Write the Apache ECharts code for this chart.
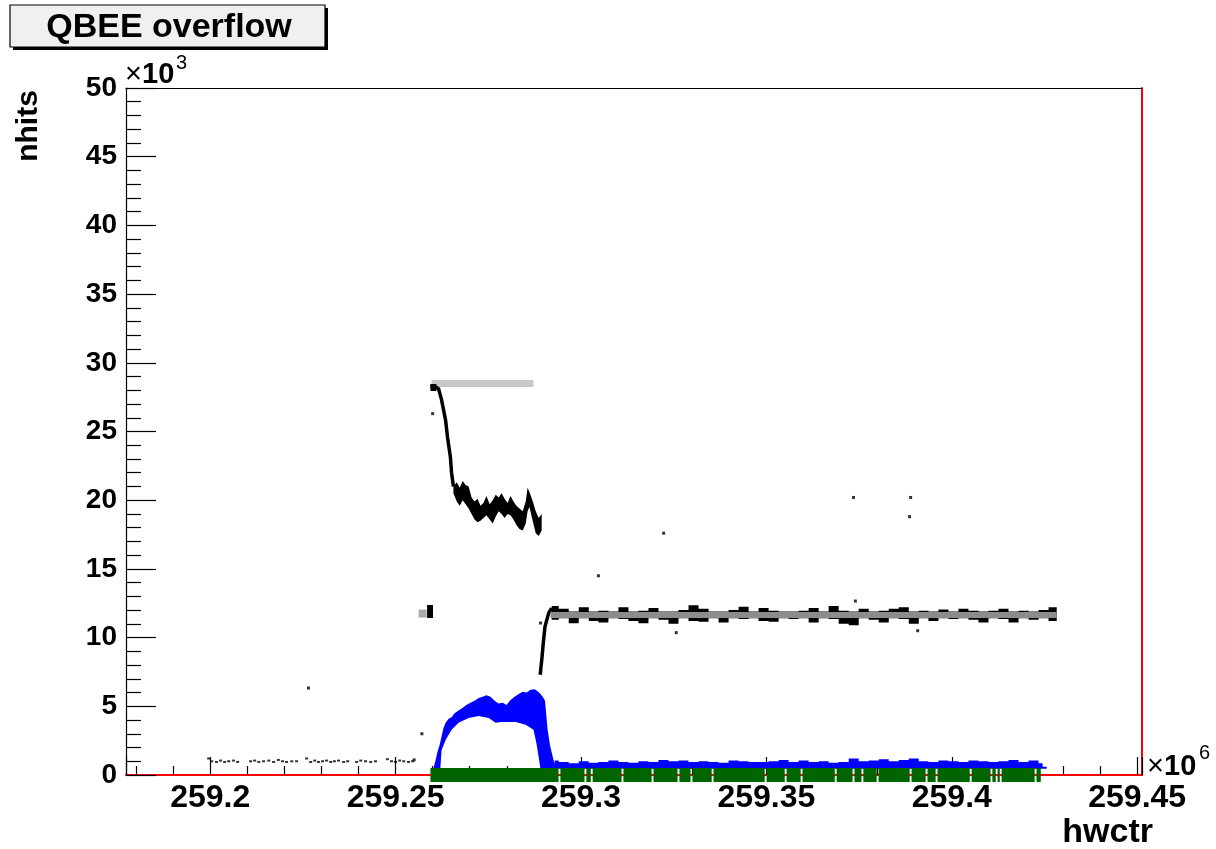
<!DOCTYPE html>
<html><head><meta charset="utf-8">
<script src="https://cdn.jsdelivr.net/npm/echarts@6/dist/echarts.min.js"></script>
<style>html,body{margin:0;padding:0;background:#fff}#c{width:1216px;height:849px}</style>
</head><body><div id="c"></div><script>
// ---------- data (x in units of 10^6 hwctr, y in units of 10^3 nhits) ----------
const xRange = [259.1773, 259.4513];
const yRange = [0, 50];
const xTickLabels = ['259.2', '259.25', '259.3', '259.35', '259.4', '259.45'];
const yTickLabels = ['0', '5', '10', '15', '20', '25', '30', '35', '40', '45', '50'];

// black trace, first period: start blob and descent
const blackDescent = [[259.2594, 28.3], [259.2605, 28.3], [259.2616, 28.1], [259.2624, 27.3], [259.2635, 25.8],
  [259.2640, 24.6], [259.2648, 23.1], [259.2651, 22.0], [259.2656, 21.0]];
// black trace, first period noisy band: [x, top, bottom]
const blackBand1 = [
  [259.2656, 21.0, 20.5], [259.2665, 21.3, 19.9], [259.2673, 20.9, 19.6], [259.2681, 21.4, 20.0],
  [259.2689, 21.1, 19.7], [259.2697, 21.0, 19.4], [259.2705, 20.2, 19.0], [259.2713, 19.9, 18.6],
  [259.2721, 20.1, 18.4], [259.2729, 19.6, 18.5], [259.2737, 19.8, 18.7], [259.2745, 20.3, 18.9],
  [259.2754, 19.7, 18.6], [259.2762, 20.0, 18.3], [259.2770, 20.4, 18.8], [259.2778, 20.2, 19.2],
  [259.2786, 20.5, 19.0], [259.2794, 20.1, 18.7], [259.2802, 19.8, 19.0], [259.2810, 20.3, 18.9],
  [259.2818, 19.9, 18.6], [259.2826, 19.6, 18.2], [259.2834, 19.4, 17.9], [259.2843, 19.2, 17.8],
  [259.2851, 19.9, 18.3], [259.2856, 20.9, 19.2], [259.2861, 20.6, 19.5], [259.2869, 20.0, 18.6],
  [259.2878, 19.2, 17.6], [259.2886, 18.7, 17.4], [259.2894, 19.0, 17.8]
];
// black trace, rise into second period
const blackRise = [[259.2890, 7.3], [259.2895, 8.6], [259.2899, 9.8], [259.2903, 10.8], [259.2913, 11.8], [259.2921, 12.15]];
// black trace, second period noisy band: [x, top, bottom]
const blackBand2 = [
  [259.2921, 12.3, 11.3], [259.2940, 12.1, 11.4], [259.2967, 11.9, 11.05], [259.2994, 12.2, 11.4],
  [259.3021, 11.9, 11.2], [259.3047, 11.95, 11.1], [259.3074, 11.9, 11.4], [259.3101, 12.2, 11.35],
  [259.3128, 11.9, 11.2], [259.3155, 11.95, 11.05], [259.3182, 12.15, 11.4], [259.3209, 11.9, 11.3],
  [259.3236, 11.9, 11.0], [259.3263, 12.0, 11.4], [259.3290, 12.35, 11.2], [259.3317, 12.1, 11.15],
  [259.3344, 11.9, 11.4], [259.3371, 11.9, 11.1], [259.3398, 12.0, 11.4], [259.3425, 12.25, 11.35],
  [259.3452, 11.9, 11.4], [259.3479, 12.15, 11.2], [259.3506, 11.95, 11.15], [259.3533, 11.9, 11.4],
  [259.3560, 11.9, 11.35], [259.3587, 11.95, 11.4], [259.3614, 12.15, 11.1], [259.3641, 11.9, 11.4],
  [259.3668, 12.3, 11.35], [259.3695, 11.95, 11.0], [259.3722, 11.9, 10.9], [259.3749, 12.1, 11.4],
  [259.3776, 11.9, 11.3], [259.3803, 11.95, 11.1], [259.3830, 12.1, 11.4], [259.3857, 12.2, 11.35],
  [259.3884, 11.9, 11.0], [259.3911, 11.95, 11.4], [259.3937, 11.9, 11.2], [259.3964, 12.05, 11.4],
  [259.3991, 11.9, 11.35], [259.4018, 12.1, 11.4], [259.4045, 11.95, 11.3], [259.4072, 11.9, 11.1],
  [259.4099, 11.95, 11.4], [259.4126, 12.1, 11.35], [259.4153, 11.9, 11.1], [259.4180, 11.95, 11.4],
  [259.4207, 11.9, 11.3], [259.4234, 12.0, 11.4], [259.4261, 12.2, 11.2], [259.4283, 11.8, 11.0]
];
// small black cluster near 12k before the run
const blackBlob = [[259.2585, 11.9], [259.2601, 11.9]];
const blackStartBlob = [[259.2594, 28.2], [259.2610, 28.2]];
// gray series
const grayHigh = [[259.2597, 28.5], [259.2872, 28.5]];
const grayBlob = [[259.2562, 11.75], [259.2584, 11.75]];
const grayFlat = [[259.2918, 11.65], [259.4283, 11.65]];
// blue: hump outer edge (left to right) and inner edge (right to left)
const blueHumpOuter = [
  [259.2602, 0.5], [259.2608, 1.1], [259.2613, 1.7], [259.2619, 2.2], [259.2624, 2.8], [259.2629, 3.4],
  [259.2635, 3.8], [259.2643, 4.1], [259.2651, 4.2], [259.2659, 4.5], [259.2670, 4.7], [259.2681, 4.9],
  [259.2691, 5.1], [259.2702, 5.25], [259.2713, 5.4], [259.2724, 5.6], [259.2735, 5.7], [259.2745, 5.8],
  [259.2756, 5.7], [259.2767, 5.4], [259.2778, 5.2], [259.2789, 5.25], [259.2799, 5.1], [259.2810, 5.45],
  [259.2821, 5.7], [259.2832, 5.9], [259.2843, 6.05], [259.2853, 6.0], [259.2864, 6.2], [259.2875, 6.25],
  [259.2883, 6.1], [259.2891, 5.9], [259.2899, 5.6], [259.2903, 5.4], [259.2910, 3.3], [259.2917, 2.1],
  [259.2926, 1.1], [259.2934, 0.5]
];
const blueHumpInner = [
  [259.2890, 0.6], [259.2886, 1.3], [259.2880, 2.3], [259.2872, 3.3], [259.2851, 3.65], [259.2824, 3.85],
  [259.2786, 3.85], [259.2770, 3.8], [259.2751, 4.15], [259.2724, 4.3], [259.2697, 4.15], [259.2670, 3.8],
  [259.2651, 3.3], [259.2635, 2.55], [259.2624, 1.8], [259.2621, 0.6]
];
// blue: low level during second period (top edge)
const blueFlat = [
  [259.2929, 1.05], [259.2940, 0.95], [259.2967, 0.85], [259.2994, 1.0], [259.3021, 0.9], [259.3047, 0.95],
  [259.3074, 1.05], [259.3101, 0.95], [259.3128, 0.9], [259.3155, 1.0], [259.3182, 0.95], [259.3209, 1.1],
  [259.3236, 1.0], [259.3263, 1.05], [259.3290, 0.95], [259.3317, 1.0], [259.3344, 0.95], [259.3371, 0.9],
  [259.3398, 1.05], [259.3425, 1.0], [259.3452, 0.95], [259.3479, 0.95], [259.3506, 1.0], [259.3533, 1.1],
  [259.3560, 0.95], [259.3587, 1.05], [259.3614, 0.95], [259.3641, 1.0], [259.3668, 0.9], [259.3695, 0.95],
  [259.3722, 1.2], [259.3749, 1.0], [259.3776, 1.05], [259.3803, 1.15], [259.3830, 1.0], [259.3857, 1.1],
  [259.3884, 1.2], [259.3911, 1.0], [259.3937, 0.95], [259.3964, 1.05], [259.3991, 1.0], [259.4018, 0.95],
  [259.4045, 1.05], [259.4072, 1.0], [259.4099, 0.95], [259.4126, 1.0], [259.4153, 1.1], [259.4180, 0.95],
  [259.4207, 1.05], [259.4234, 0.85], [259.4245, 0.6], [259.4256, 0.4]
];
// green: points at zero, continuous run with gaps
const greenRange = [259.2594, 259.4240];
const greenGaps = [259.2942, 259.3012, 259.3029, 259.3112, 259.3193, 259.3263, 259.3298, 259.3355, 259.3498,
  259.3552, 259.3595, 259.3687, 259.3735, 259.3759, 259.3800, 259.3889, 259.3932, 259.3959, 259.4051,
  259.4107, 259.4121, 259.4132, 259.4226];
// isolated black points
const blackDots = [[259.2265, 6.33], [259.2571, 3.0], [259.2550, 1.1], [259.2600, 26.3], [259.3047, 14.5],
  [259.3223, 17.6], [259.3735, 20.2], [259.3889, 20.2], [259.3886, 18.8], [259.2891, 11.06],
  [259.3257, 10.36], [259.3740, 12.66], [259.3908, 10.5]];
// faint row of points before the run
const faintRow = [
  [259.1996, 1.2], [259.2004, 1.0], [259.2017, 0.95], [259.2028, 1.05], [259.2039, 0.95], [259.2050, 1.0],
  [259.2063, 1.05], [259.2074, 0.95], [259.2109, 1.0], [259.2120, 1.05], [259.2131, 0.95], [259.2144, 1.0],
  [259.2158, 1.05], [259.2171, 0.95], [259.2184, 1.1], [259.2195, 1.0], [259.2206, 0.95], [259.2220, 1.0],
  [259.2233, 1.0], [259.2260, 1.2], [259.2271, 0.95], [259.2282, 1.05], [259.2292, 0.95], [259.2303, 1.0],
  [259.2314, 1.05], [259.2325, 0.95], [259.2335, 1.0], [259.2346, 1.05], [259.2360, 0.95], [259.2371, 1.0],
  [259.2395, 0.95], [259.2406, 1.05], [259.2419, 1.0], [259.2433, 0.95], [259.2446, 1.0],
  [259.2478, 1.15], [259.2489, 1.0], [259.2500, 0.95], [259.2511, 1.05], [259.2522, 1.0], [259.2535, 0.95],
  [259.2546, 1.0]
];

// ---------- build ----------
const FONT = '"Liberation Sans", Arial, Helvetica, sans-serif';
function polygonSeries(points, color, z) {
  return { type: 'custom', coordinateSystem: 'cartesian2d', silent: true, clip: false, z: z,
    data: [points[0]],
    renderItem: function (params, api) {
      return { type: 'polygon', shape: { points: points.map(function (p) { return api.coord(p); }) },
        style: { fill: color } };
    } };
}
function lineSeries(data, color, width, z) {
  return { type: 'line', data: data, symbol: 'none', clip: false, z: z, silent: true, connectNulls: false,
    lineStyle: { color: color, width: width, cap: 'butt', join: 'miter' } };
}
// step-style edge (like a line series with step:'end'): blocky edges as drawn by markers
function stepEdge(pts) {
  const out = [];
  pts.forEach(function (p, i) {
    if (i > 0) out.push([p[0], pts[i - 1][1]]);
    out.push(p);
  });
  return out;
}
function bandPoints(band, step) {
  let top = band.map(function (b) { return [b[0], b[1]]; });
  let bot = band.map(function (b) { return [b[0], b[2]]; });
  if (step) { top = stepEdge(top); bot = stepEdge(bot); }
  return top.concat(bot.reverse());
}
const humpBase = 0.45;
const humpPoly = blueHumpOuter.concat(
  [[blueHumpOuter[blueHumpOuter.length - 1][0], humpBase], [blueHumpInner[0][0], humpBase]],
  blueHumpInner,
  [[blueHumpInner[blueHumpInner.length - 1][0], humpBase], [blueHumpOuter[0][0], humpBase]]);
const flatTop = stepEdge(blueFlat);
const flatPoly = flatTop.concat([[blueFlat[blueFlat.length - 1][0], humpBase], [blueFlat[0][0], humpBase]]);

const greenData = [];
let gStart = greenRange[0];
greenGaps.forEach(function (g) {
  greenData.push([gStart, 0], [g - 0.00025, 0], [g, null]);
  gStart = g + 0.00025;
});
greenData.push([gStart, 0], [greenRange[1], 0]);

function xLabel(v) {
  const s = String(Number(v.toFixed(3)));
  return xTickLabels.indexOf(s) >= 0 ? s : '';
}
function yLabel(v) {
  const s = String(Math.round(v));
  return yTickLabels.indexOf(s) >= 0 ? s : '';
}
const tickStyle = { color: '#000', width: 1.2 };
const labelBase = { color: '#000', fontFamily: FONT, fontWeight: 'bold' };
function txt(x, y, text, font, align) {
  return { type: 'text', x: x, y: y, z: 12,
    style: { text: text, font: font, fill: '#000', align: align || 'left', verticalAlign: 'middle' } };
}

const chart = echarts.init(document.getElementById('c'), null, { renderer: 'canvas' });
chart.setOption({
  animation: false,
  backgroundColor: '#fff',
  grid: { left: 126, right: 74, top: 88, bottom: 74, containLabel: false },
  xAxis: [
    { type: 'value', min: xRange[0], max: xRange[1], splitNumber: 5, position: 'bottom',
      axisLine: { show: true, onZero: false, lineStyle: { color: '#ff0000', width: 2 } },
      axisTick: { show: true, inside: true, length: 18, lineStyle: tickStyle },
      minorTick: { show: true, splitNumber: 5, length: 9, lineStyle: tickStyle },
      axisLabel: Object.assign({ fontSize: 32, margin: 7, showMinLabel: false, showMaxLabel: false, formatter: xLabel }, labelBase),
      splitLine: { show: false } },
    { type: 'value', min: xRange[0], max: xRange[1], position: 'top',
      axisLine: { show: true, onZero: false, lineStyle: { color: '#000', width: 1.2 } },
      axisTick: { show: false }, axisLabel: { show: false }, splitLine: { show: false } }
  ],
  yAxis: [
    { type: 'value', min: yRange[0], max: yRange[1], interval: 5, position: 'left',
      axisLine: { show: true, onZero: false, lineStyle: { color: '#000', width: 1.2 } },
      axisTick: { show: true, inside: true, length: 30, lineStyle: tickStyle },
      minorTick: { show: true, splitNumber: 5, length: 15, lineStyle: tickStyle },
      axisLabel: Object.assign({ fontSize: 28, margin: 9, formatter: yLabel }, labelBase),
      splitLine: { show: false } },
    { type: 'value', min: yRange[0], max: yRange[1], position: 'right',
      axisLine: { show: true, onZero: false, lineStyle: { color: '#ff0000', width: 2 } },
      axisTick: { show: false }, axisLabel: { show: false }, splitLine: { show: false } }
  ],
  series: [
    polygonSeries(flatPoly, '#0000ff', 2),
    polygonSeries(humpPoly, '#0000ff', 2),
    lineSeries(greenData, '#006400', 14, 3),
    lineSeries(grayHigh, '#c8c8c8', 7, 3),
    lineSeries(grayBlob, '#aaaaaa', 8, 3),
    lineSeries(blackBlob, '#000', 13, 4),
    lineSeries(blackStartBlob, '#000', 7, 4),
    lineSeries(blackDescent, '#000', 3.5, 4),
    polygonSeries(bandPoints(blackBand1, false), '#000', 4),
    lineSeries(blackRise, '#000', 3.5, 4),
    polygonSeries(bandPoints(blackBand2, true), '#000', 4),
    lineSeries(grayFlat, '#8c8c8c', 6, 5),
    { type: 'scatter', data: blackDots, symbol: 'rect', symbolSize: 3, itemStyle: { color: '#000' }, z: 6, silent: true },
    { type: 'scatter', data: faintRow, symbol: 'rect', symbolSize: [3, 2], itemStyle: { color: '#000' }, z: 6, silent: true }
  ],
  graphic: [
    { type: 'rect', shape: { x: 13, y: 8, width: 315, height: 42 }, style: { fill: '#000' }, z: 10 },
    { type: 'rect', shape: { x: 10, y: 5, width: 315, height: 42 }, style: { fill: '#f0f0f0', stroke: '#000', lineWidth: 1.2 }, z: 11 },
    txt(169, 28, 'QBEE overflow', 'bold 34px ' + FONT, 'center'),
    txt(125, 75, '\u00d7', '29px ' + FONT),
    txt(142, 75, '10', 'bold 29px ' + FONT),
    txt(176, 63, '3', '20px ' + FONT),
    txt(1147, 767, '\u00d7', '29px ' + FONT),
    txt(1164, 767, '10', 'bold 29px ' + FONT),
    txt(1199, 753, '6', '20px ' + FONT),
    { type: 'text', x: 29, y: 126, rotation: Math.PI / 2, z: 12, style: { text: 'nhits', font: 'bold 30px ' + FONT, fill: '#000', align: 'center', verticalAlign: 'middle' } },
    txt(1153, 833, 'hwctr', 'bold 34px ' + FONT, 'right')
  ]
});
</script></body></html>
